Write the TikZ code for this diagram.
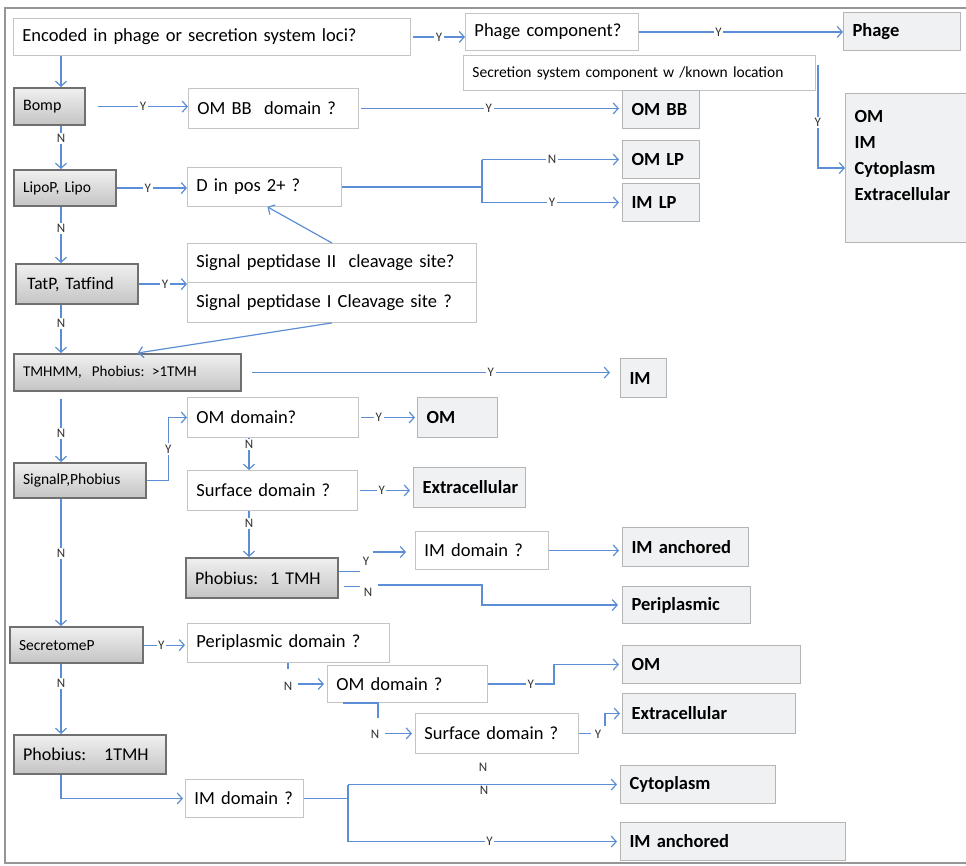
\documentclass[tikz,border=0pt]{standalone}
\usepackage{fontspec}
\setmainfont{Carlito}
\usetikzlibrary{arrows.meta}
\definecolor{blueln}{RGB}{91,142,212}
\definecolor{qgray}{RGB}{196,196,196}
\definecolor{rgray}{RGB}{178,180,182}
\definecolor{rfill}{RGB}{239,241,243}
\definecolor{tborder}{RGB}{112,112,112}
\definecolor{tlight}{RGB}{240,240,240}
\definecolor{tdark}{RGB}{196,196,196}
\definecolor{lblc}{RGB}{50,50,50}
\definecolor{framec}{RGB}{150,150,150}
\tikzset{
  wh/.code 2 args={\pgfmathsetmacro\boxtw{#1-18}\edef\boxtmp{\noexpand\tikzset{minimum width=#1pt,minimum height=#2pt,text width=\boxtw pt}}\boxtmp},
  bx/.style={draw, rectangle, inner xsep=9pt, inner ysep=0pt, align=left, anchor=north west},
  qbox/.style={bx, draw=qgray, line width=0.9pt, fill=white, font=\fontsize{18.5}{21}\selectfont},
  rbox/.style={bx, draw=rgray, line width=1.1pt, fill=rfill, font=\fontsize{18.5}{21}\selectfont\bfseries},
  tbox/.style={bx, draw=tborder, line width=2.2pt, top color=tlight, bottom color=tdark, font=\fontsize{15}{18}\selectfont},
  conn/.style={draw=blueln, line width=1.2pt},
  arr/.style={conn, -{Straight Barb[length=5pt,width=11pt]}},
  lbl/.style={fill=white, inner sep=1.5pt, font=\fontsize{13}{14}\selectfont, text=lblc},
  framestyle/.style={draw=framec, line width=1.6pt}
}
\begin{document}
\begin{tikzpicture}[x=1pt,y=-1pt]
\useasboundingbox (0,0) rectangle (966,866);
\draw[framestyle] (975,8) -- (5,8) -- (5,863) -- (975,863);

% question boxes
\node[qbox, wh={397}{37}] (enc) at (13,18) {Encoded in phage or secretion system loci?};
\node[qbox, wh={173}{37}] (phq) at (465,13) {Phage component?};
\node[qbox, wh={352}{35}, font=\fontsize{15.5}{18}\selectfont] (sec) at (463,55) {Secretion system component w /known location};
\node[qbox, wh={170}{40}] (ombbq) at (188,88) {OM BB\ \ domain ?};
\node[qbox, wh={154}{39}] (dpos) at (187,167) {D in pos 2+ ?};
\node[qbox, wh={289}{39}] (sp2) at (187,243) {Signal peptidase II\ \ cleavage site?};
\node[qbox, wh={289}{40}] (sp1) at (187,282) {Signal peptidase I Cleavage site ?};
\node[qbox, wh={171}{40}] (omq1) at (187,397) {OM domain?};
\node[qbox, wh={170}{40}] (surfq1) at (187,470) {Surface domain ?};
\node[qbox, wh={133}{38}] (imq1) at (415,531) {IM domain ?};
\node[qbox, wh={202}{39}] (periq) at (187,623) {Periplasmic domain ?};
\node[qbox, wh={160}{37}] (omq2) at (327,665) {OM domain ?};
\node[qbox, wh={163}{40}] (surfq2) at (415,713) {Surface domain ?};
\node[qbox, wh={118}{38}] (imq2) at (185,779) {IM domain ?};

% tool boxes
\node[tbox, wh={71}{37}, font=\fontsize{16}{18}\selectfont] (bomp) at (13,87) {Bomp};
\node[tbox, wh={102}{36}, font=\fontsize{15.5}{18}\selectfont] (lipo) at (13,169) {LipoP, Lipo};
\node[tbox, wh={118}{40}, font=\fontsize{17.5}{20}\selectfont, inner xsep=11pt] (tat) at (15,263) {TatP, Tatfind};
\node[tbox, wh={227}{37}] (tmh) at (13,353) {TMHMM,\ \ Phobius: >1TMH};
\node[tbox, wh={132}{35}, font=\fontsize{15.5}{18}\selectfont] (sigp) at (13,462) {SignalP,Phobius};
\node[tbox, wh={152}{40}, font=\fontsize{18}{20}\selectfont] (pho1) at (185,557) {Phobius:\ \ 1 TMH};
\node[tbox, wh={133}{36}, font=\fontsize{15.5}{18}\selectfont] (secp) at (9,626) {SecretomeP};
\node[tbox, wh={152}{39}, font=\fontsize{18}{20}\selectfont] (pho2) at (13,734) {Phobius:\ \ \ 1TMH};

% result boxes
\node[rbox, wh={117}{38}] (phage) at (843,12) {Phage};
\node[rbox, wh={77}{38}] (ombb) at (622,90) {OM BB};
\node[rbox, wh={140}{149}, font=\fontsize{18.5}{26}\selectfont\bfseries] (big) at (845,93) {OM\\IM\\Cytoplasm\\Extracellular\\\mbox{}};
\node[rbox, wh={77}{38}] (omlp) at (622,140) {OM LP};
\node[rbox, wh={77}{38}] (imlp) at (622,183) {IM LP};
\node[rbox, wh={46}{39}, inner xsep=7pt] (im) at (620,358) {IM};
\node[rbox, wh={80}{40}] (om1) at (417,397) {OM};
\node[rbox, wh={112}{40}, inner xsep=8pt] (ext1) at (413,467) {Extracellular};
\node[rbox, wh={126}{39}] (imanc1) at (622,527) {IM anchored};
\node[rbox, wh={128}{37}] (peri) at (622,586) {Periplasmic};
\node[rbox, wh={178}{38}] (om2) at (622,645) {OM};
\node[rbox, wh={173}{40}] (ext2) at (622,693) {Extracellular};
\node[rbox, wh={155}{38}] (cyto) at (620,765) {Cytoplasm};
\node[rbox, wh={225}{38}] (imanc2) at (620,822) {IM anchored};

% helper coordinates
\coordinate (vx) at (61,0);
\coordinate (vxb) at (249,0);
\coordinate (vxc) at (288,0);
\coordinate (brD) at (482,0);
\coordinate (brI) at (348,0);

% row 1
\draw[arr] ([xshift=2pt]enc.east) -- node[lbl]{Y} (enc.east -| phq.west);
\draw[arr] (phq.east) -- node[lbl,pos=0.39]{Y} (phq.east -| phage.west);
\draw[arr] ([xshift=2pt,yshift=-10pt]sec.north east) |- node[lbl,pos=0.28]{Y} (big.west);

% Bomp
\draw[arr] (enc.south -| vx) -- (bomp.north -| vx);
\draw[arr] ([xshift=12pt]bomp.east) -- node[lbl]{Y} (bomp.east -| ombbq.west);
\draw[arr, shorten >=3pt] ([xshift=2pt]ombbq.east) -- node[lbl,pos=0.49]{Y} (ombbq.east -| ombb.west);
\draw[arr] (bomp.south -| vx) -- node[lbl,pos=0.29]{N} (lipo.north -| vx);

% Lipo
\draw[arr] (lipo.east) -- node[lbl,pos=0.44]{Y} (lipo.east -| dpos.west);
\draw[conn] (dpos.east) -- (dpos.east -| brD);
\draw[conn] (brD |- omlp.west) -- (brD |- imlp.west);
\draw[arr, shorten >=3pt] (brD |- omlp.west) -- node[lbl]{N} (omlp.west);
\draw[arr, shorten >=3pt] (brD |- imlp.west) -- node[lbl]{Y} (imlp.west);
\draw[arr] (lipo.south -| vx) -- node[lbl,pos=0.38]{N} (tat.north -| vx);

% Tat
\draw[arr] (tat.east) -- node[lbl,pos=0.54]{Y} (tat.east -| sp2.west);
\draw[arr] (sp2.north) -- ([xshift=3pt]dpos.south);
\draw[arr] (sp1.south) -- ([xshift=10pt]tmh.north);
\draw[arr] (tat.south -| vx) -- node[lbl,pos=0.38]{N} (tmh.north -| vx);

% TMHMM
\draw[arr] ([xshift=10pt]tmh.east) -- node[lbl,pos=0.667]{Y} ([xshift=-10pt]tmh.east -| im.west);
\draw[arr] ([yshift=-7pt]tmh.south -| vx) -- node[lbl,pos=0.55]{N} (sigp.north -| vx);

% SignalP branch
\draw[arr] (sigp.east) -- ++(21,0) |- node[lbl,pos=0.25]{Y} (omq1.west);
\draw[arr, shorten >=2pt] ([xshift=2pt]omq1.east) -- node[lbl,pos=0.32]{Y} (omq1.east -| om1.west);
\draw[arr] (omq1.south -| vxb) -- node[lbl,pos=0.2]{N} (surfq1.north -| vxb);
\draw[arr, shorten >=3pt] ([xshift=2pt]surfq1.east) -- node[lbl,pos=0.41]{Y} (surfq1.east -| ext1.west);
\draw[arr] (surfq1.south -| vxb) -- node[lbl,pos=0.27]{N} (pho1.north -| vxb);

% Phobius 1 TMH
\coordinate (p1y) at (373,552);
\coordinate (p1n) at (378,585);
\draw[conn] ([yshift=7pt]pho1.east) -- ++(21,0);
\node[lbl] (ly1) at (366,561) {Y};
\draw[arr, shorten >=9pt] (p1y) -- (p1y -| imq1.west);
\draw[conn] ([xshift=5pt,yshift=-8pt]pho1.east) -- ++(16,0);
\node[lbl] (ln1) at (368,592) {N};
\draw[arr, shorten >=4pt] (p1n) -- (p1n -| brD) |- (peri.west);
\draw[arr, shorten >=3pt] (imq1.east) -- (imq1.east -| imanc1.west);

% SecretomeP
\draw[arr] (sigp.south -| vx) -- node[lbl,pos=0.43]{N} (secp.north -| vx);
\draw[arr, shorten >=2pt] (secp.east) -- node[lbl,pos=0.4]{Y} (secp.east -| periq.west);
\draw[conn] (periq.south -| vxc) -- ++(0,6);
\node[lbl] (ln2) at (288,686) {N};
\draw[arr, shorten <=4pt, shorten >=3pt] (ln2.east |- omq2.west) -- (omq2.west);
\draw[arr, shorten >=3pt] (omq2.east) -- node[lbl,pos=0.65]{Y} ++(66,0) |- (om2.west);
\draw[conn] ([xshift=16pt]omq2.south west) -- ++(35,0) -- ++(0,15);
\node[lbl] (ln3) at (375,734) {N};
\draw[arr, shorten <=4pt, shorten >=3pt] (ln3.east |- surfq2.west) -- (surfq2.west);
\draw[conn] (surfq2.east) -- ++(12,0);
\node[lbl] (ly2) at (598,734) {Y};
\coordinate (s2y) at (605,726);
\draw[arr, shorten >=2pt] (s2y) |- (ext2.west);

% Phobius 1TMH (bottom)
\draw[arr] (secp.south -| vx) -- node[lbl,pos=0.28]{N} (pho2.north -| vx);
\draw[arr, shorten >=2pt] (pho2.south -| vx) |- (imq2.west);
\draw[conn] (imq2.east) -- (imq2.east -| brI);
\draw[conn] (brI |- cyto.west) -- (brI |- imanc2.west);
\draw[arr, shorten >=3pt] (brI |- cyto.west) -- node[lbl, yshift=-6pt]{N} (cyto.west);
\node[lbl] (ln4) at (483,767) {N};
\draw[arr, shorten >=3pt] (brI |- imanc2.west) -- node[lbl,pos=0.52]{Y} (imanc2.west);
\end{tikzpicture}
\end{document}
